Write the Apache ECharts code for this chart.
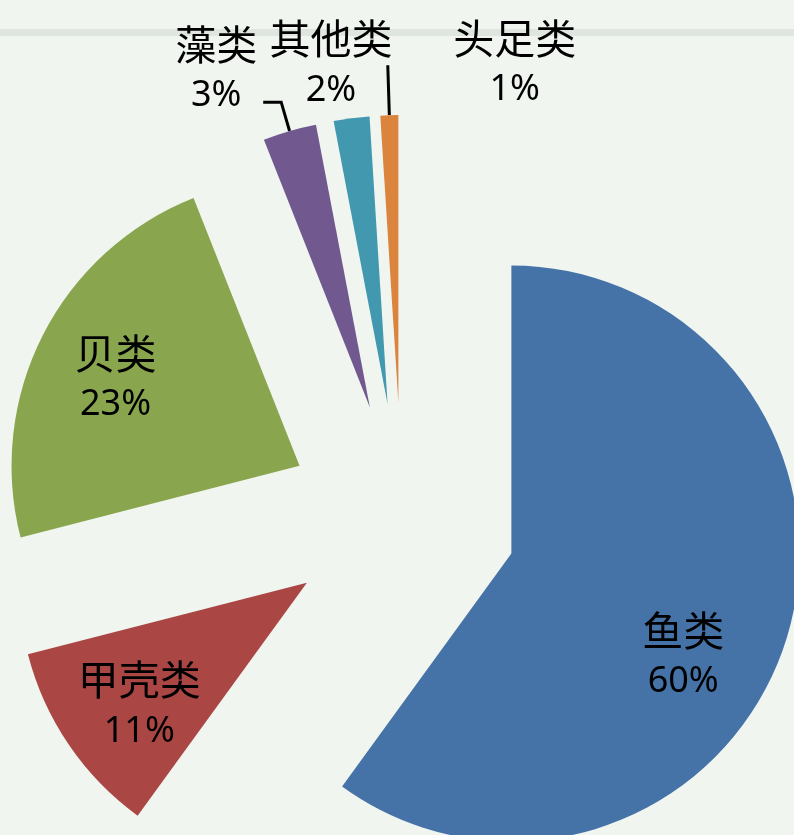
<!DOCTYPE html>
<html>
<head>
<meta charset="utf-8">
<script src="https://cdn.jsdelivr.net/npm/echarts@6/dist/echarts.min.js"></script>
<style>
  html, body { margin: 0; padding: 0; background: #f0f5f0; }
  #pie_share { width: 794px; height: 835px; }
</style>
</head>
<body>
<div id="pie_share"></div>
<script>
// Data
var categories = ['鱼类', '甲壳类', '贝类', '藻类', '其他类', '头足类'];
var shares = [60, 11, 23, 3, 2, 1];
var colors = ['#4572a7', '#aa4643', '#89a54e', '#71588f', '#4198af', '#db843d'];

// Label nudges (dx, dy) from where ECharts puts them by default
var labelShift = [[32, 57], [-46, 40], [-53, -20], [-42, -32], [7, -34], [132, -1]];
// Guide line lengths [length, length2] for the thin slices
var guideLen = { 3: [30, 18], 4: [20, 20], 5: [50, 0] };

var chartEl = document.getElementById('pie_share');
var pieChart = echarts.init(chartEl);

var pieData = [];
for (var i = 0; i < categories.length; i++) {
    var item = {
        name: categories[i],
        value: shares[i],
        selected: true,
        itemStyle: { color: colors[i] }
    };
    if (guideLen[i]) {
        item.label = { position: 'outside' };
        item.labelLine = {
            show: i !== 4,
            length: guideLen[i][0],
            length2: guideLen[i][1]
        };
    }
    pieData.push(item);
}

pieChart.setOption({
    animation: false,
    backgroundColor: '#f0f5f0',
    graphic: [{
        type: 'rect',
        shape: { x: 0, y: 29, width: 794, height: 7 },
        style: { fill: '#dfe5df' },
        z: -1
    }],
    series: [{
        type: 'pie',
        center: [402, 518],
        radius: 288,
        startAngle: 90,
        clockwise: true,
        selectedMode: 'multiple',
        selectedOffset: 115,
        avoidLabelOverlap: false,
        emphasis: { disabled: true },
        label: {
            show: true,
            position: 'inside',
            formatter: '{n|{b}}\n{p|{c}%}',
            color: '#000',
            rich: {
                n: {
                    fontSize: 41,
                    lineHeight: 52,
                    color: '#000',
                    fontFamily: '"Noto Sans CJK SC", sans-serif'
                },
                p: {
                    fontSize: 36,
                    lineHeight: 52,
                    color: '#000',
                    fontFamily: '"Noto Sans", sans-serif'
                }
            }
        },
        labelLine: {
            show: true,
            length: 20,
            length2: 20,
            lineStyle: { color: '#000', width: 3 }
        },
        labelLayout: function (params) {
            var k = params.dataIndex;
            var out = { dx: labelShift[k][0], dy: labelShift[k][1] };
            if (guideLen[k]) {
                out.align = 'center';
            }
            return out;
        },
        data: pieData
    }]
});
</script>
</body>
</html>
